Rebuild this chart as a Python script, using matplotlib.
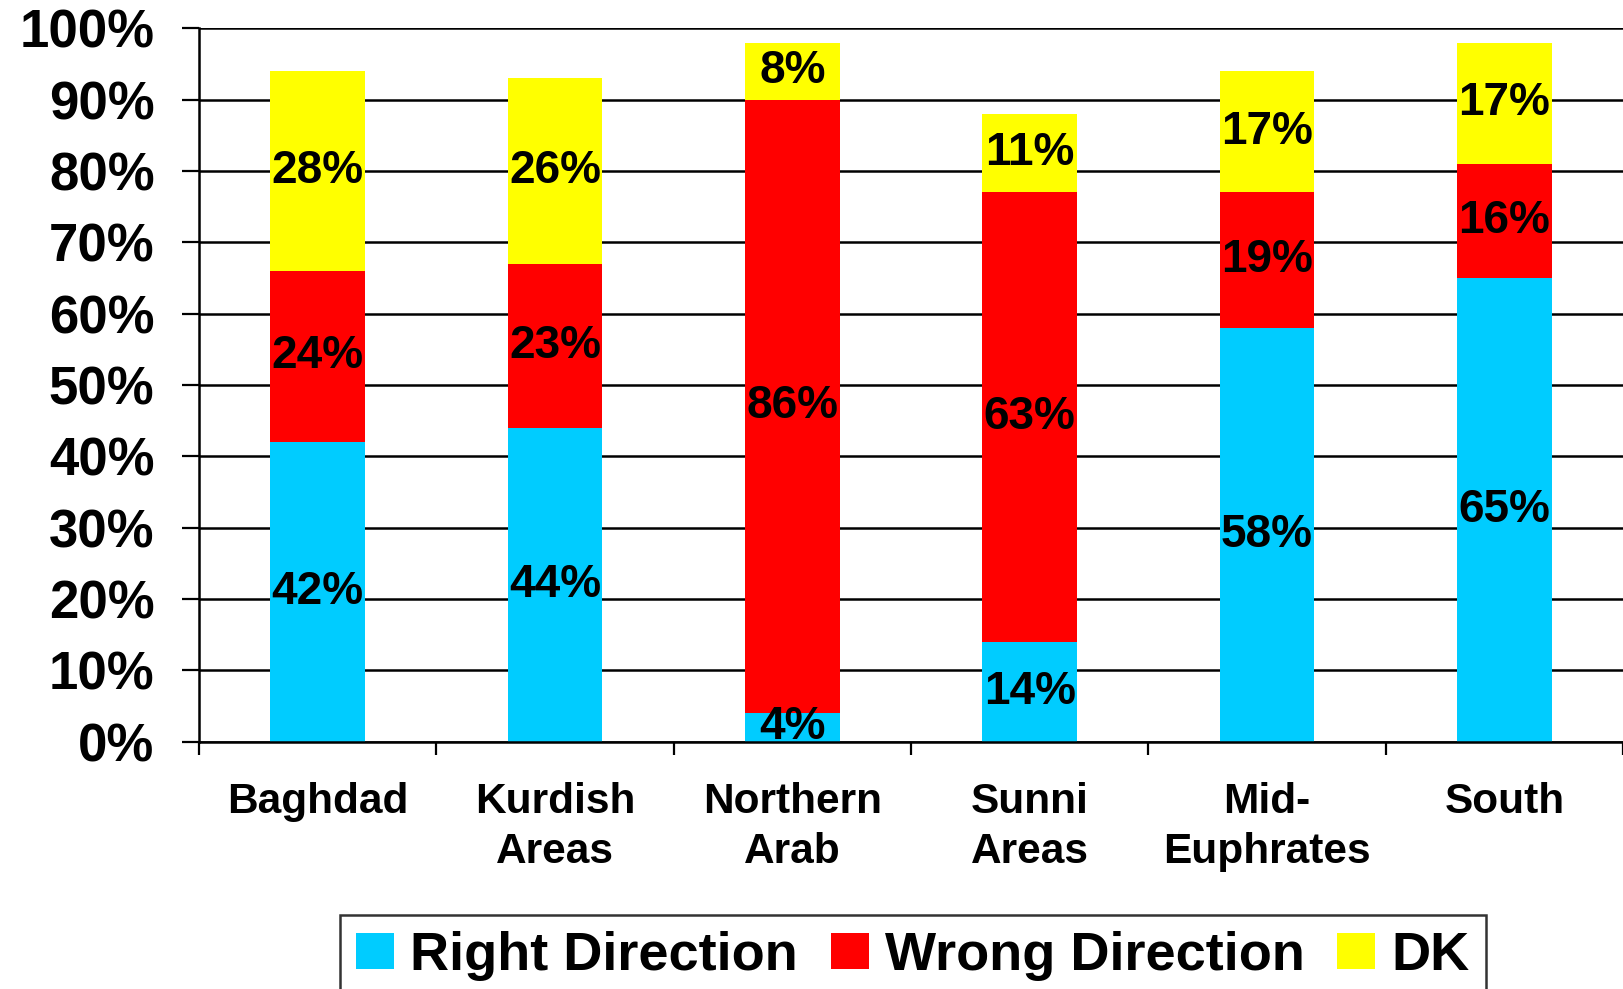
import numpy as np
import matplotlib
matplotlib.use('Agg')
import matplotlib.pyplot as plt
from matplotlib.patches import Patch

# data
regions = ['Baghdad', 'Kurdish\nAreas', 'Northern\nArab', 'Sunni\nAreas', 'Mid-\nEuphrates', 'South']
right_dir = [42, 44, 4, 14, 58, 65]
wrong_dir = [24, 23, 86, 63, 19, 16]
dont_know = [28, 26, 8, 11, 17, 17]
series_names = ['Right Direction', 'Wrong Direction', 'DK']
colors = ['#00CCFF', '#FF0000', '#FFFF00']

plt.rcParams['font.family'] = ['Liberation Sans', 'DejaVu Sans']
plt.rcParams['font.weight'] = 'bold'

fig = plt.figure(figsize=(16.23, 9.89), dpi=100)
ax = fig.add_axes([0.1226, 0.250, 0.8774, 0.7214])

x = np.arange(len(regions))
series = [np.array(right_dir), np.array(wrong_dir), np.array(dont_know)]
bottom = np.zeros(len(regions))
for vals, col in zip(series, colors):
    ax.bar(x, vals / 100, bottom=bottom / 100, width=0.4, color=col, zorder=2)
    # percentage labels in middle of each segment
    for xi, b, v in zip(x, bottom, vals):
        ax.text(xi, (b + v / 2) / 100, f'{v}%', ha='center', va='center',
                fontsize=33, fontweight='bold', zorder=3)
    bottom = bottom + vals

ax.set_xlim(-0.5, len(regions) - 0.5)
ax.set_ylim(0, 1)
ax.set_yticks(np.arange(0, 1.01, 0.1))
ax.set_yticklabels([f'{int(round(t * 100))}%' for t in np.arange(0, 1.01, 0.1)],
                   fontsize=38, fontweight='bold')
ax.yaxis.grid(True, color='black', linewidth=1.8, zorder=0)
ax.set_axisbelow(True)

ax.set_xticks(x)
ax.set_xticklabels(regions, fontsize=30.5, fontweight='bold', linespacing=1.32)
ax.set_xticks(np.arange(-0.5, len(regions)), minor=True)
ax.tick_params(axis='x', which='major', length=0, pad=29)
ax.tick_params(axis='x', which='minor', length=9, width=1.6, direction='out')
ax.tick_params(axis='y', length=12, width=1.6, direction='out', pad=20)

for side in ['top', 'right']:
    ax.spines[side].set_visible(False)
for side in ['left', 'bottom']:
    ax.spines[side].set_linewidth(1.8)

handles = [Patch(facecolor=c, edgecolor='none') for c in colors]
leg = fig.legend(handles, series_names, loc='upper center', ncol=3,
                 bbox_to_anchor=(0.5625, 1 - 915 / 989),
                 prop={'weight': 'bold', 'size': 39},
                 frameon=True, fancybox=False, edgecolor='black',
                 handlelength=0.7, handleheight=0.65, handletextpad=0.3,
                 columnspacing=0.6, borderpad=0.3, borderaxespad=0)
leg.get_frame().set_linewidth(1.8)

fig.savefig('out.png', dpi=100)
